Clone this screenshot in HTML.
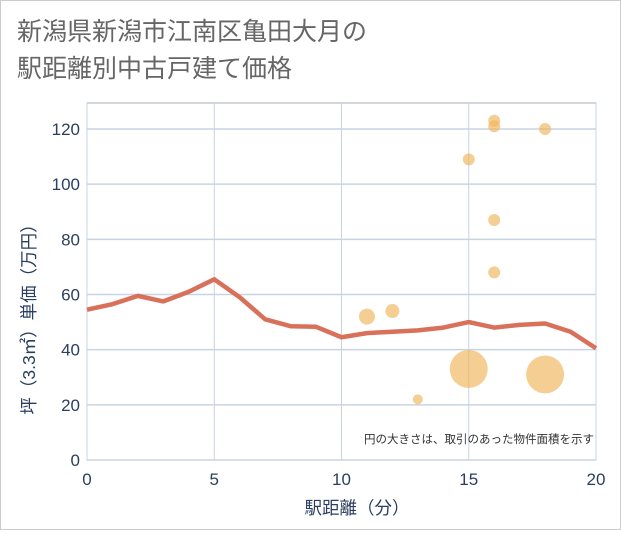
<!DOCTYPE html>
<html><head><meta charset="utf-8"><style>
body{margin:0;background:#fff}
svg text{font-family:"Liberation Sans","Noto Sans CJK JP",sans-serif}
</style></head><body>
<svg id="c" width="621" height="530" xmlns="http://www.w3.org/2000/svg">
<rect x="0.5" y="0.5" width="620" height="529" fill="#fff" stroke="#ccc"/>
<text x="17" y="40" font-size="25" fill="#666">新潟県新潟市江南区亀田大月の</text>
<text x="17" y="77" font-size="25" fill="#666">駅距離別中古戸建て価格</text>
<g id="grid"></g>
<g id="line"></g>
<g id="bubbles"></g>
<text x="594" y="443" font-size="11.5" fill="#333" text-anchor="end">円の大きさは、取引のあった物件面積を示す</text>
<text x="357" y="514" font-size="17.5" fill="#2a3f5f" text-anchor="middle">駅距離（分）</text>
<text transform="translate(35,315) rotate(-90)" font-size="17.5" fill="#2a3f5f" text-anchor="middle">坪（3.3㎡）単価（万円）</text>
</svg>
<script>
const xTicks=[0,5,10,15,20];
const yTicks=[0,20,40,60,80,100,120];
const lineX=[0,1,2,3,4,5,6,7,8,9,10,11,12,13,14,15,16,17,18,19,20];
const lineY=[54.5,56.5,59.5,57.5,61,65.5,59,51,48.5,48.3,44.5,46,46.5,47,48,50,48,49,49.5,46.5,40.5];
const bubX=[11,12,13,15,15,16,16,16,16,18,18];
const bubY=[52,54,22,33,109,123,121,87,68,120,31];
const bubR=[8,7,5,19,6,6,6,6,6,6,19];
const NS="http://www.w3.org/2000/svg";
const X0=87,X1=596,Y0=460,YT=129;
const sx=v=>X0+(X1-X0)*v/20;
const sy=v=>Y0-(Y0-YT)*v/120;
function mk(t,a,p){const e=document.createElementNS(NS,t);for(const k in a)e.setAttribute(k,a[k]);p.appendChild(e);return e;}
const g=document.getElementById('grid');
const bg=mk('rect',{x:X0,y:103,width:X1-X0,height:Y0-103,fill:'#fff',stroke:'#aab0bb','stroke-width':1},g);


xTicks.forEach(v=>{
 const l=mk('line',{x1:sx(v),x2:sx(v),y1:103,y2:Y0,stroke:'#c8d4e3'},g);
 
 
 const t=mk('text',{x:sx(v),y:Y0+25,'font-size':17,fill:'#2a3f5f','text-anchor':'middle'},g);
 t.textContent=v;
 
 
});
yTicks.forEach(v=>{
 const l=mk('line',{x1:X0,x2:X1,y1:sy(v),y2:sy(v),stroke:'#c8d4e3','stroke-width':1.5},g);
 
 
 const t=mk('text',{x:X0-7,y:sy(v)+6,'font-size':17,fill:'#2a3f5f','text-anchor':'end'},g);
 t.textContent=v;
 
 
});
const lg=document.getElementById('line');
const p=mk('polyline',{points:lineX.map((x,i)=>sx(x)+','+sy(lineY[i])).join(' '),fill:'none',stroke:'#d9705a','stroke-width':4.5,'stroke-linejoin':'round'},lg);


const bgp=document.getElementById('bubbles');
bubX.forEach((x,i)=>{
 const c=mk('circle',{cx:sx(x),cy:sy(bubY[i]),r:bubR[i],fill:'#f0b45a','fill-opacity':0.65},bgp);
 
 
});
</script>
</body></html>
